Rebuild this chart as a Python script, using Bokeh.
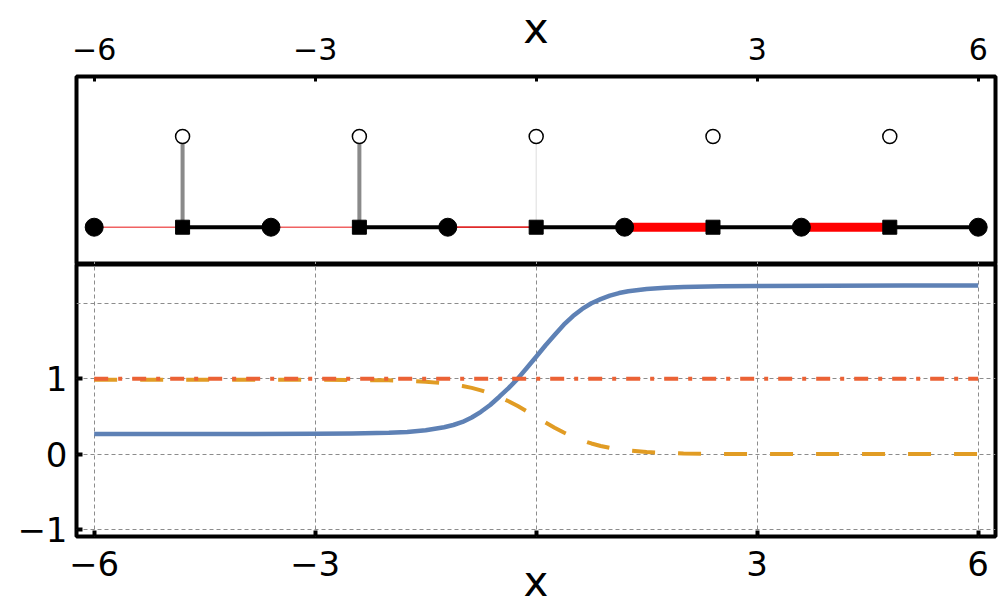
from bokeh.plotting import figure
from bokeh.layouts import column
from bokeh.models import FixedTicker, LinearAxis, ColumnDataSource, Range1d
from bokeh.embed import file_html
from bokeh.resources import INLINE

# ---------------- data ----------------
# top panel: chain of nodes (filled circles) and cells (squares), open markers above cells
node_x = [-6.0, -3.6, -1.2, 1.2, 3.6, 6.0]
node_y = [0, 0, 0, 0, 0, 0]
cell_x = [-4.8, -2.4, 0.0, 2.4, 4.8]
cell_y = [0, 0, 0, 0, 0]
open_y = [1, 1, 1, 1, 1]

# bottom panel curves
curve_x = [-6, -5, -4, -3, -2.5, -2, -1.75, -1.5, -1.25, -1.125, -1, -0.875, -0.75,
           -0.625, -0.5, -0.375, -0.25, -0.125, 0, 0.125, 0.25, 0.375, 0.5, 0.625,
           0.75, 0.875, 1, 1.125, 1.25, 1.5, 1.75, 2, 2.5, 3, 4, 5, 6]
blue_y = [0.265, 0.265, 0.266, 0.268, 0.272, 0.282, 0.293, 0.315, 0.355, 0.385, 0.425,
          0.485, 0.56, 0.65, 0.76, 0.875, 1.00, 1.145, 1.29, 1.44, 1.58, 1.715, 1.83,
          1.925, 2.00, 2.055, 2.10, 2.135, 2.16, 2.19, 2.205, 2.215, 2.225, 2.23,
          2.233, 2.235, 2.235]
orange_y = [0.985, 0.985, 0.985, 0.984, 0.983, 0.977, 0.970, 0.959, 0.938, 0.923, 0.903,
            0.878, 0.845, 0.805, 0.757, 0.700, 0.636, 0.566, 0.49, 0.419, 0.349, 0.285,
            0.228, 0.180, 0.140, 0.107, 0.082, 0.062, 0.047, 0.026, 0.015, 0.008,
            0.002, 0.001, 0.0, 0.0, 0.0]
red_x = [-6, 6]
red_y = [1, 1]

x_ticks = [-6, -3, 0, 3, 6]
x_tick_labels = {-6: "\u22126", -3: "\u22123", 0: "", 3: "3", 6: "6"}
y_ticks = [-1, 0, 1]
y_grid = [-1, 0, 1, 2]
y_tick_labels = {-1: "\u22121", 0: "0", 1: "1"}
x_title = "x"

# styles for the top panel links
red_widths = [1.4, 1.4, 1.7, 9, 9]
red_colors = ["#f06262", "#f06262", "#e02a2a", "#ff0000", "#ff0000"]
stem_widths = [4, 4, 1, 1, 1]
stem_colors = ["#8a8a8a", "#8a8a8a", "#dddddd", "#dddddd", "#dddddd"]
stem_alphas = [1, 1, 1, 0, 0]

FONT = "DejaVu Sans"
XR = (-6.24, 6.235)
SHIFT = 14  # top figure is pulled up by this many px so its header has room

# ---------------- top panel ----------------
top = figure(width=998, height=264 + SHIFT, x_range=Range1d(*XR),
             y_range=Range1d(-0.411, 1.661),
             output_backend="svg", toolbar_location=None, x_axis_location="above",
             y_axis_location=None, min_border_left=76, min_border_right=3,
             min_border_top=76 + SHIFT, min_border_bottom=0,
             margin=(-SHIFT, 0, 0, 0))
top.grid.visible = False
top.outline_line_color = "black"
top.outline_line_width = 4
top.background_fill_color = "white"
top.border_fill_color = "white"

ax = top.xaxis[0]
ax.ticker = FixedTicker(ticks=x_ticks)
ax.major_label_overrides = x_tick_labels
ax.axis_line_color = None
ax.major_tick_in = 5
ax.major_tick_out = 0
ax.major_tick_line_width = 3
ax.minor_tick_line_color = None
ax.major_label_text_font = FONT
ax.major_label_text_font_size = "30px"
ax.major_label_text_color = "black"
ax.major_label_standoff = 17
ax.axis_label = x_title
ax.axis_label_text_font = FONT
ax.axis_label_text_font_size = "43px"
ax.axis_label_text_font_style = "normal"
ax.axis_label_text_color = "black"
ax.axis_label_standoff = -18

bax = LinearAxis(ticker=FixedTicker(ticks=x_ticks), major_label_text_font_size="0px",
                 major_label_standoff=0, axis_line_color=None, major_tick_in=3,
                 major_tick_out=0, major_tick_line_color="#999999", major_tick_line_width=1,
                 minor_tick_line_color=None)
bax.major_label_overrides = {t: "" for t in x_ticks}
top.add_layout(bax, "below")

red_src = ColumnDataSource(dict(x0=node_x[:-1], x1=cell_x, y0=cell_y, y1=cell_y,
                                w=red_widths, c=red_colors))
top.segment(x0="x0", y0="y0", x1="x1", y1="y1", line_width="w", line_color="c",
            source=red_src)
top.segment(x0=cell_x, y0=cell_y, x1=node_x[1:], y1=cell_y, line_width=4,
            line_color="black")
stem_src = ColumnDataSource(dict(x=cell_x, y0=cell_y, y1=open_y, w=stem_widths,
                                 c=stem_colors, a=stem_alphas))
top.segment(x0="x", y0="y0", x1="x", y1="y1", line_width="w", line_color="c",
            line_alpha="a", source=stem_src)
top.scatter(node_x, node_y, marker="circle", size=18, color="black")
top.scatter(cell_x, cell_y, marker="square", size=14, color="black")
top.scatter(cell_x, open_y, marker="circle", size=14, fill_color="white",
            line_color="black", line_width=1.5)

# ---------------- bottom panel ----------------
bot = figure(width=998, height=346, x_range=Range1d(*XR), y_range=Range1d(-1.094, 2.514),
             output_backend="svg", toolbar_location=None, min_border_left=76,
             min_border_right=3, min_border_top=0, min_border_bottom=74)
bot.outline_line_color = "black"
bot.outline_line_width = 4
bot.background_fill_color = "white"
bot.border_fill_color = "white"

for a, ticks, labels in ((bot.xaxis[0], x_ticks, x_tick_labels),
                         (bot.yaxis[0], y_ticks, y_tick_labels)):
    a.ticker = FixedTicker(ticks=ticks)
    a.major_label_overrides = labels
    a.axis_line_color = None
    a.major_tick_in = 6
    a.major_tick_out = 0
    a.major_tick_line_width = 4
    a.minor_tick_line_color = None
    a.major_label_text_font = FONT
    a.major_label_text_font_size = "34px"
    a.major_label_text_color = "black"
bx = bot.xaxis[0]
bx.major_label_standoff = 14
bx.axis_label = x_title
bx.axis_label_text_font = FONT
bx.axis_label_text_font_size = "42px"
bx.axis_label_text_font_style = "normal"
bx.axis_label_text_color = "black"
bx.axis_label_standoff = -22
bot.yaxis[0].major_label_standoff = 9

bot.xgrid.ticker = FixedTicker(ticks=x_ticks)
bot.ygrid.ticker = FixedTicker(ticks=y_grid)
for g in (bot.xgrid[0], bot.ygrid[0]):
    g.grid_line_color = "#8c8c8c"
    g.grid_line_width = 1
    g.grid_line_dash = "4 3"

bot.line(curve_x, blue_y, line_color="#5e81b5", line_width=4.5, line_join="round")
bot.line(curve_x, orange_y, line_color="#e19c24", line_width=4, line_dash="23 23")
bot.line(red_x, red_y, line_color="#eb6235", line_width=4, line_dash="14 10 4 10")

layout = column(top, bot, spacing=0)
open("out.html", "w").write(file_html(layout, INLINE))
